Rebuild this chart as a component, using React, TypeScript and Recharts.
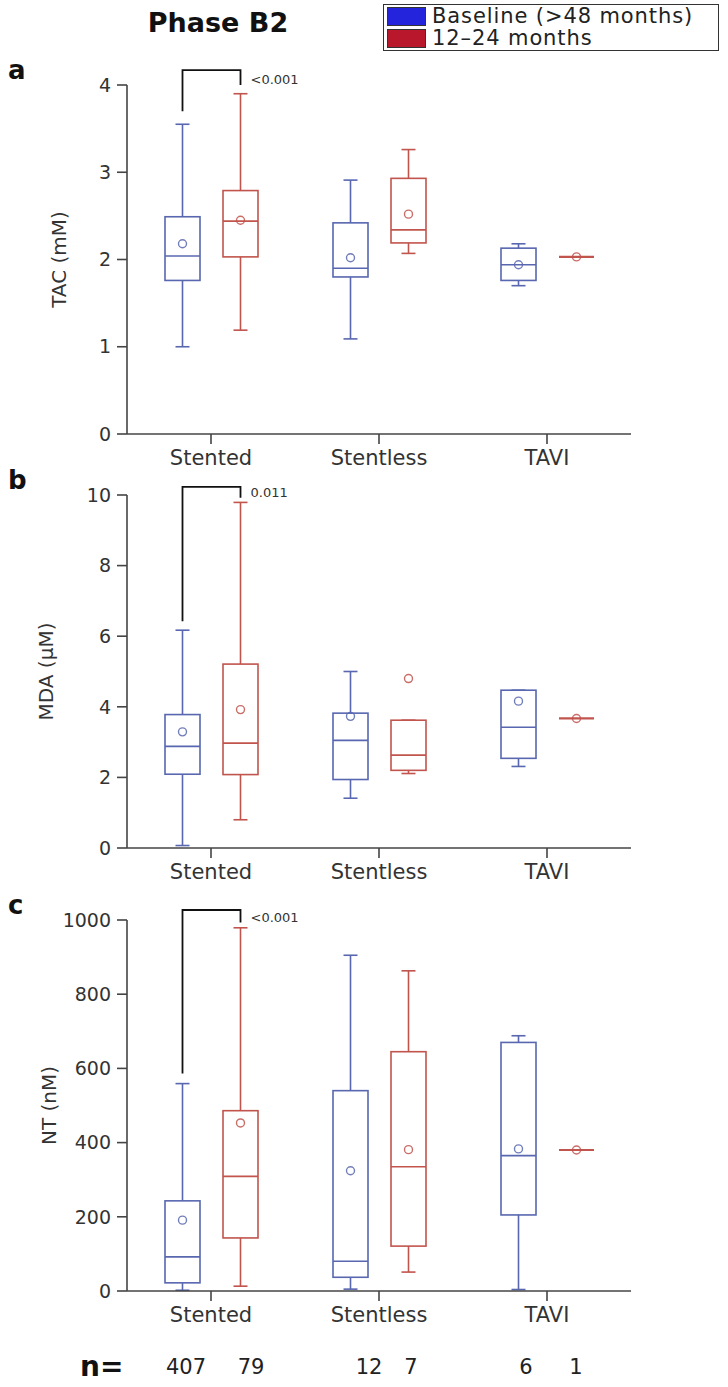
import React from 'react';
import { ComposedChart, Bar, XAxis, YAxis } from 'recharts';

const categories = ['Stented', 'Stentless', 'TAVI'];

// each entry: [lower whisker, Q1, median, Q3, upper whisker, mean]
const tacBaseline = [
  [1.0, 1.76, 2.04, 2.49, 3.55, 2.18],
  [1.09, 1.8, 1.9, 2.42, 2.91, 2.02],
  [1.7, 1.76, 1.94, 2.13, 2.18, 1.94],
];
const tacFollowup = [
  [1.19, 2.03, 2.44, 2.79, 3.9, 2.45],
  [2.07, 2.19, 2.34, 2.93, 3.26, 2.52],
  [2.03, 2.03, 2.03, 2.03, 2.03, 2.03],
];
const mdaBaseline = [
  [0.07, 2.09, 2.88, 3.78, 6.17, 3.29],
  [1.41, 1.94, 3.05, 3.82, 5.0, 3.73],
  [2.31, 2.54, 3.42, 4.47, 4.47, 4.16],
];
const mdaFollowup = [
  [0.8, 2.08, 2.97, 5.21, 9.79, 3.92],
  [2.11, 2.2, 2.63, 3.62, 3.62, 4.8],
  [3.67, 3.67, 3.67, 3.67, 3.67, 3.67],
];
const ntBaseline = [
  [2, 22, 92, 243, 559, 191],
  [5, 37, 80, 540, 905, 324],
  [4, 205, 365, 670, 688, 383],
];
const ntFollowup = [
  [13, 143, 309, 486, 979, 453],
  [51, 121, 335, 645, 863, 381],
  [380, 380, 380, 380, 380, 380],
];

const tacTicks = [0, 1, 2, 3, 4];
const mdaTicks = [0, 2, 4, 6, 8, 10];
const ntTicks = [0, 200, 400, 600, 800, 1000];

const nBaseline = [407, 12, 6];
const nFollowup = [79, 7, 1];

const BLUE = '#5867b0';
const RED = '#c1544c';
const AXIS = '#444';
const TEXT = '#333';
const FONT = "'DejaVu Sans', sans-serif";
const BAR_SIZE = 35;
const BAR_GAP = 23;

const extent = (s: number[]) => [Math.min(s[0], s[5]), Math.max(s[4], s[5])];

function BoxShape(props: any) {
  const { x, y, width, height, stats, color, bracket, payload } = props;
  if (!stats) return null;
  const [lo, hi] = extent(stats);
  const pix = (v: number) => (hi === lo ? y : y + ((hi - v) / (hi - lo)) * height);
  const cx = x + width / 2;
  const [wLo, q1, med, q3, wHi, mean] = stats;
  const cap = 7;
  const single = q1 === q3;
  let br = null;
  if (bracket && payload.cat === 'Stented') {
    const leftX = cx - (BAR_SIZE + BAR_GAP);
    br = (
      <g>
        <path
          d={`M${leftX},${pix(bracket.left)} L${leftX},${pix(bracket.top)} L${cx},${pix(bracket.top)} L${cx},${pix(bracket.right)}`}
          fill="none"
          stroke="#111"
          strokeWidth={1.8}
        />
        <text x={cx + 10} y={pix(bracket.labelY)} fontSize={13} fill={TEXT} fontFamily={FONT} dominantBaseline="middle">
          {bracket.label}
        </text>
      </g>
    );
  }
  return (
    <g>
      {!single && (
        <g stroke={color} strokeWidth={1.6} fill="none">
          <line x1={cx} x2={cx} y1={pix(wHi)} y2={pix(q3)} />
          <line x1={cx} x2={cx} y1={pix(q1)} y2={pix(wLo)} />
          <line x1={cx - cap} x2={cx + cap} y1={pix(wHi)} y2={pix(wHi)} />
          <line x1={cx - cap} x2={cx + cap} y1={pix(wLo)} y2={pix(wLo)} />
          <rect x={x} y={pix(q3)} width={width} height={pix(q1) - pix(q3)} />
          <line x1={x} x2={x + width} y1={pix(med)} y2={pix(med)} />
        </g>
      )}
      {single && <line x1={x} x2={x + width} y1={pix(med)} y2={pix(med)} stroke={color} strokeWidth={2.2} />}
      <circle cx={cx} cy={pix(mean)} r={4} fill="none" stroke={color} strokeWidth={1.4} opacity={0.85} />
      {br}
    </g>
  );
}

const buildRows = (base: number[][], follow: number[][]) =>
  categories.map((cat, i) => ({ cat, base: base[i], follow: follow[i] }));

const panels = [
  {
    key: 'a',
    top: 0,
    height: 480,
    marginTop: 85,
    marginBottom: 6,
    title: 'TAC (mM)',
    titleX: 60,
    domain: [0, 4],
    ticks: tacTicks,
    rows: buildRows(tacBaseline, tacFollowup),
    bracket: { top: 4.17, left: 3.7, right: 4.0, labelY: 4.05, label: '<0.001' },
  },
  {
    key: 'b',
    top: 460,
    height: 430,
    marginTop: 35,
    marginBottom: 2,
    title: 'MDA (\u00b5M)',
    titleX: 47,
    domain: [0, 10],
    ticks: mdaTicks,
    rows: buildRows(mdaBaseline, mdaFollowup),
    bracket: { top: 10.23, left: 6.42, right: 9.92, labelY: 10.05, label: '0.011' },
  },
  {
    key: 'c',
    top: 870,
    height: 470,
    marginTop: 50,
    marginBottom: 9,
    title: 'NT (nM)',
    titleX: 50,
    domain: [0, 1000],
    ticks: ntTicks,
    rows: buildRows(ntBaseline, ntFollowup),
    bracket: { top: 1027, left: 586, right: 993, labelY: 1004, label: '<0.001' },
  },
];

const Y_WIDTH = 80;
const PLOT_LEFT = 127;
const PLOT_RIGHT = 631;

function Panel({ p }: { p: (typeof panels)[number] }) {
  return (
    <div style={{ position: 'absolute', left: 0, top: p.top, width: 728, height: p.height }}>
      <ComposedChart
        width={728}
        height={p.height}
        data={p.rows}
        barSize={BAR_SIZE}
        barGap={BAR_GAP}
        margin={{ top: p.marginTop, right: 728 - PLOT_RIGHT, bottom: p.marginBottom, left: PLOT_LEFT - Y_WIDTH }}
      >
        <XAxis
          dataKey="cat"
          height={40}
          axisLine={{ stroke: AXIS, strokeWidth: 1.6 }}
          tickLine={{ stroke: AXIS, strokeWidth: 1.6 }}
          tickSize={10}
          tickMargin={6}
          tick={{ fill: TEXT, fontSize: 21, fontFamily: FONT }}
        />
        <YAxis
          width={Y_WIDTH}
          type="number"
          domain={p.domain}
          ticks={p.ticks}
          interval={0}
          axisLine={{ stroke: AXIS, strokeWidth: 1.6 }}
          tickLine={{ stroke: AXIS, strokeWidth: 1.6 }}
          tickSize={10}
          tickMargin={6}
          tick={{ fill: TEXT, fontSize: 19, fontFamily: FONT }}
          label={{
            content: (lp: any) => {
              const vb = lp.viewBox;
              const cy = vb.y + vb.height / 2;
              return (
                <text
                  x={p.titleX}
                  y={cy}
                  transform={`rotate(-90 ${p.titleX} ${cy})`}
                  textAnchor="middle"
                  dominantBaseline="middle"
                  fontSize={20}
                  fill={TEXT}
                  fontFamily={FONT}
                >
                  {p.title}
                </text>
              );
            },
          }}
        />
        <Bar
          dataKey={(d: any) => extent(d.base)}
          isAnimationActive={false}
          shape={(sp: any) => <BoxShape {...sp} stats={sp.payload.base} color={BLUE} />}
        />
        <Bar
          dataKey={(d: any) => extent(d.follow)}
          isAnimationActive={false}
          shape={(sp: any) => <BoxShape {...sp} stats={sp.payload.follow} color={RED} bracket={p.bracket} />}
        />
      </ComposedChart>
      <div
        style={{
          position: 'absolute',
          left: 8,
          top: p.marginTop - 30,
          fontFamily: FONT,
          fontWeight: 'bold',
          fontSize: 26,
          color: '#111',
        }}
      >
        {p.key}
      </div>
    </div>
  );
}

const nPositions = [186, 251, 369, 411, 526, 576];

export default function App() {
  const nValues = [nBaseline[0], nFollowup[0], nBaseline[1], nFollowup[1], nBaseline[2], nFollowup[2]];
  return (
    <div style={{ position: 'absolute', left: 0, top: 0, width: 728, height: 1387, background: '#fff', fontFamily: FONT }}>
      {panels.map((p) => (
        <Panel key={p.key} p={p} />
      ))}
      <div
        style={{
          position: 'absolute',
          left: 218,
          top: 7,
          transform: 'translateX(-50%)',
          fontSize: 27,
          fontWeight: 'bold',
          color: '#111',
          whiteSpace: 'nowrap',
        }}
      >
        Phase B2
      </div>
      <div
        style={{
          position: 'absolute',
          left: 383,
          top: 4,
          width: 336,
          height: 47,
          border: '1.5px solid #333',
          boxSizing: 'border-box',
          padding: '1px 3px',
        }}
      >
        {[
          { label: 'Baseline (>48 months)', color: '#2424dd' },
          { label: '12\u201324 months', color: '#b8172c' },
        ].map((it) => (
          <div key={it.label} style={{ display: 'flex', alignItems: 'center', height: 21.5 }}>
            <span
              style={{
                display: 'inline-block',
                width: 37,
                height: 17,
                background: it.color,
                border: '1px solid #333',
                marginRight: 6,
                flexShrink: 0,
              }}
            />
            <span style={{ fontSize: 21, lineHeight: '21px', letterSpacing: 0.9, color: '#222', whiteSpace: 'nowrap' }}>
              {it.label}
            </span>
          </div>
        ))}
      </div>
      <div style={{ position: 'absolute', left: 80, top: 1350, fontSize: 28, fontWeight: 'bold', color: '#111' }}>n=</div>
      {nValues.map((v, i) => (
        <div
          key={i}
          style={{
            position: 'absolute',
            left: nPositions[i],
            top: 1355,
            transform: 'translateX(-50%)',
            fontSize: 21,
            color: '#222',
          }}
        >
          {v}
        </div>
      ))}
    </div>
  );
}
